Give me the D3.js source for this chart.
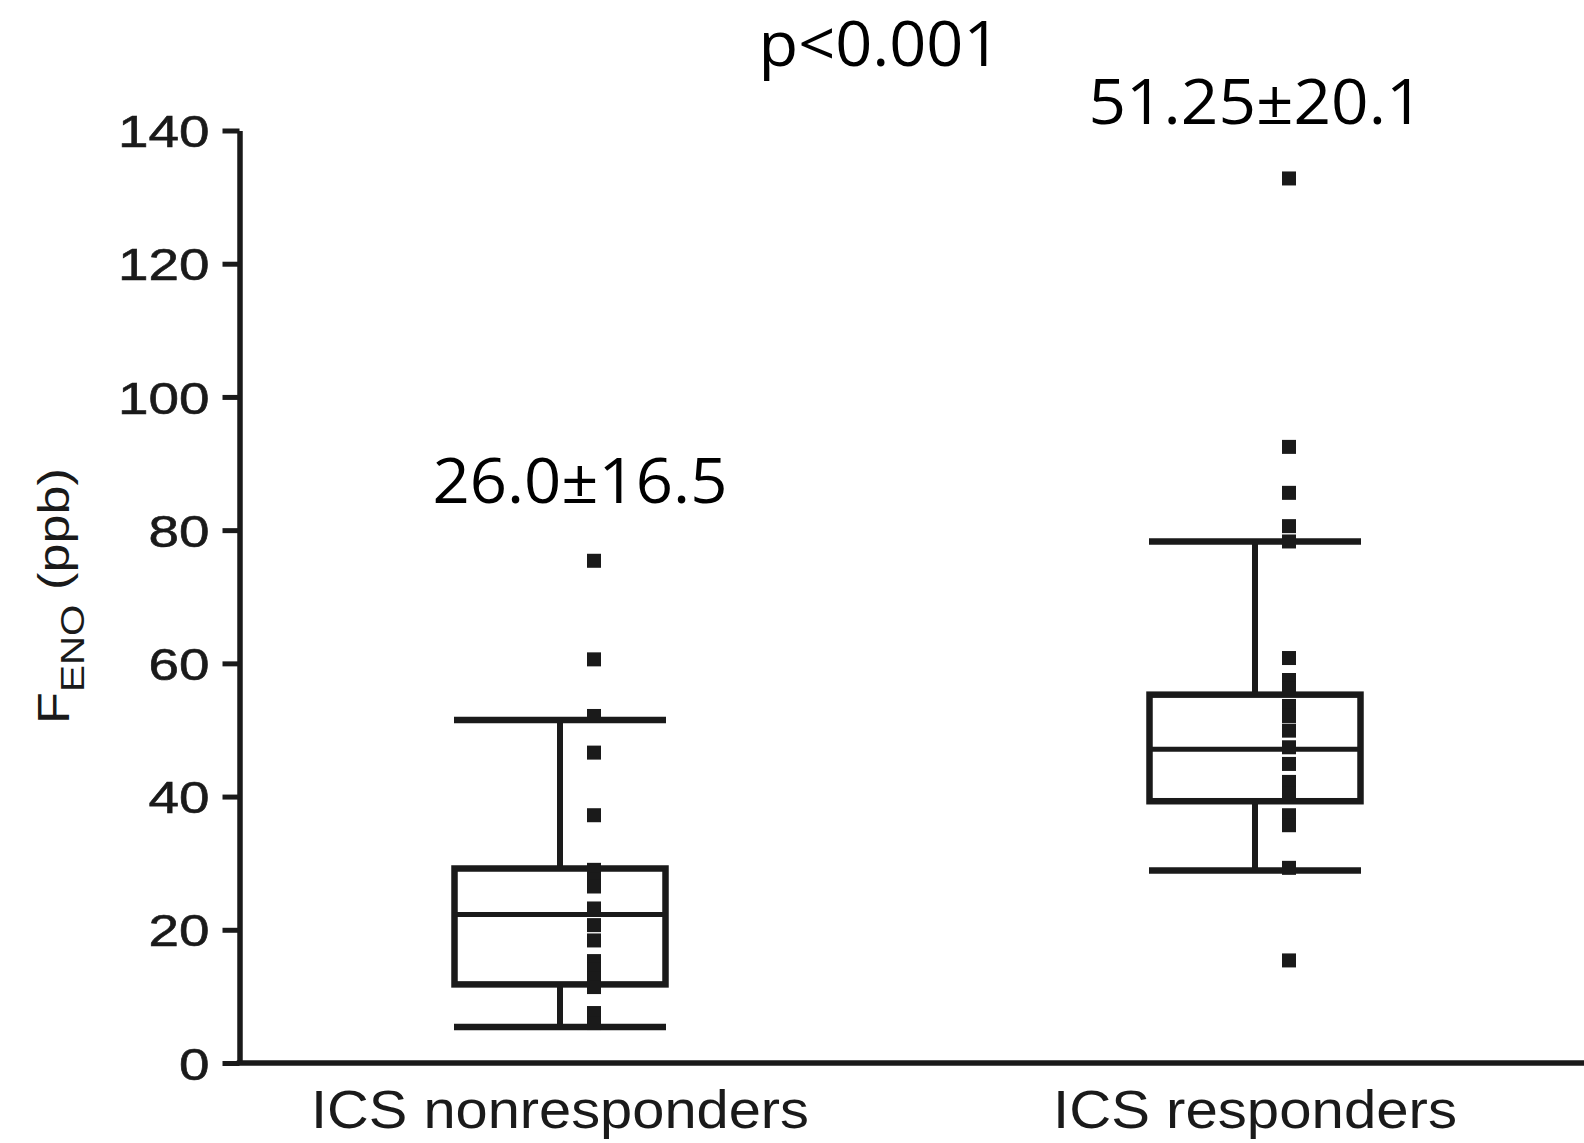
<!DOCTYPE html>
<html>
<head>
<meta charset="utf-8">
<script src="https://cdn.jsdelivr.net/npm/d3@7"></script>
<style>
  html, body { margin: 0; padding: 0; background: #fff; }
  svg { display: block; }
</style>
</head>
<body>
<svg id="chart" width="1584" height="1143"></svg>
<script>
// Groups compared
const categories = ["ICS nonresponders", "ICS responders"];

// Box-plot summary per group (ppb)
const whiskerLow  = [5.4, 28.9];
const q1          = [11.8, 39.3];
const medians     = [22.3, 47.1];
const q3          = [29.2, 55.3];
const whiskerHigh = [51.5, 78.3];

// Individual FeNO measurements (ppb)
const nonresponderValues = [75.4, 60.6, 52.1, 46.6, 37.2, 29.0, 27.5, 26.5, 23.2, 20.7,
                            18.4, 15.3, 14.0, 12.7, 11.4, 7.5, 6.0];
const responderValues = [132.8, 92.5, 85.6, 80.6, 78.3, 60.8, 57.5, 56.2, 53.6, 52.1,
                         49.9, 47.4, 44.9, 42.2, 40.4, 37.2, 35.7, 29.3, 15.4];
const groupValues = [nonresponderValues, responderValues];

// Mean ± SD per group and the group comparison
const meanSdLabels = ["26.0\u00b116.5", "51.25\u00b120.1"];
const pLabel = "p<0.001";

// Y-axis ticks
const yTicks = [0, 20, 40, 60, 80, 100, 120, 140];

const ink = "#1a1a1a";
const svg = d3.select("#chart");
const W = 1584, H = 1143;
svg.append("rect").attr("width", W).attr("height", H).attr("fill", "#fff");

const axisX = 239.5;
const y = d3.scaleLinear().domain([0, 140]).range([1063, 130.5]);
const x = d3.scalePoint().domain(categories).range([560, 1255]);

const boxW = 211;
const capW = 212;
const dotOffset = 34;
const dotSize = 14;

// Y axis
const yAxis = svg.append("g")
  .attr("transform", `translate(${axisX},0)`)
  .call(d3.axisLeft(y).tickValues(yTicks).tickSize(17).tickSizeOuter(0).tickPadding(13)
        .tickFormat(d3.format("d")));
yAxis.select(".domain").attr("stroke", ink).attr("stroke-width", 5.5);
yAxis.selectAll(".tick line").attr("stroke", ink).attr("stroke-width", 5);
yAxis.selectAll(".tick text")
  .attr("fill", ink)
  .attr("stroke", ink)
  .attr("stroke-width", 0.6)
  .attr("font-family", "'Liberation Sans', Arial, sans-serif")
  .attr("font-size", 45)
  .attr("dy", "0.36em")
  .attr("textLength", d => String(d).length * 30.5)
  .attr("lengthAdjust", "spacingAndGlyphs");

// X axis baseline
svg.append("line")
  .attr("x1", axisX - 2.75).attr("x2", W)
  .attr("y1", y(0)).attr("y2", y(0))
  .attr("stroke", ink).attr("stroke-width", 5.5);

// Category labels
const xLabelWidths = [498, 404];
svg.selectAll("text.cat")
  .data(categories)
  .join("text")
  .attr("class", "cat")
  .attr("x", d => x(d))
  .attr("y", 1128)
  .attr("text-anchor", "middle")
  .attr("fill", ink)
  .attr("font-family", "'Liberation Sans', Arial, sans-serif")
  .attr("font-size", 53)
  .attr("textLength", (d, i) => xLabelWidths[i])
  .attr("lengthAdjust", "spacingAndGlyphs")
  .text(d => d);

// Y axis title: F with subscript ENO
const yTitle = svg.append("text")
  .attr("transform", `translate(69,596) rotate(-90)`)
  .attr("text-anchor", "middle")
  .attr("fill", ink)
  .attr("font-family", "'Liberation Sans', Arial, sans-serif")
  .attr("font-size", 44)
  .attr("textLength", 256)
  .attr("lengthAdjust", "spacingAndGlyphs");
yTitle.append("tspan").text("F");
yTitle.append("tspan").attr("font-size", 34).attr("dy", 15).text("ENO");
yTitle.append("tspan").attr("dy", -15).text(" (ppb)");

// Boxes, whiskers and medians
const groups = svg.selectAll("g.box")
  .data(categories.map((c, i) => ({ c, i })))
  .join("g")
  .attr("class", "box");

groups.append("line")
  .attr("x1", d => x(d.c)).attr("x2", d => x(d.c))
  .attr("y1", d => y(q3[d.i])).attr("y2", d => y(whiskerHigh[d.i]))
  .attr("stroke", ink).attr("stroke-width", 6);
groups.append("line")
  .attr("x1", d => x(d.c)).attr("x2", d => x(d.c))
  .attr("y1", d => y(q1[d.i])).attr("y2", d => y(whiskerLow[d.i]))
  .attr("stroke", ink).attr("stroke-width", 6);
groups.append("line")
  .attr("x1", d => x(d.c) - capW / 2).attr("x2", d => x(d.c) + capW / 2)
  .attr("y1", d => y(whiskerHigh[d.i])).attr("y2", d => y(whiskerHigh[d.i]))
  .attr("stroke", ink).attr("stroke-width", 6.5);
groups.append("line")
  .attr("x1", d => x(d.c) - capW / 2).attr("x2", d => x(d.c) + capW / 2)
  .attr("y1", d => y(whiskerLow[d.i])).attr("y2", d => y(whiskerLow[d.i]))
  .attr("stroke", ink).attr("stroke-width", 6.5);
groups.append("rect")
  .attr("x", d => x(d.c) - boxW / 2)
  .attr("width", boxW)
  .attr("y", d => y(q3[d.i]))
  .attr("height", d => y(q1[d.i]) - y(q3[d.i]))
  .attr("fill", "none")
  .attr("stroke", ink).attr("stroke-width", 6.5);
groups.append("line")
  .attr("x1", d => x(d.c) - boxW / 2).attr("x2", d => x(d.c) + boxW / 2)
  .attr("y1", d => y(medians[d.i])).attr("y2", d => y(medians[d.i]))
  .attr("stroke", ink).attr("stroke-width", 5);

// Individual points
groups.each(function(d) {
  d3.select(this).selectAll("rect.pt")
    .data(groupValues[d.i])
    .join("rect")
    .attr("class", "pt")
    .attr("x", x(d.c) + dotOffset - dotSize / 2)
    .attr("y", v => y(v) - dotSize / 2)
    .attr("width", dotSize)
    .attr("height", dotSize)
    .attr("fill", ink);
});

// Mean ± SD annotations and p value
const noteFont = "'Open Sans', 'Noto Sans', sans-serif";
const meanPos = [
  { dx: 20, v: 84.1, w: 295 },
  { dx: 1, v: 141.0, w: 335 }
];
svg.selectAll("text.mean")
  .data(meanSdLabels)
  .join("text")
  .attr("class", "mean")
  .attr("x", (d, i) => x(categories[i]) + meanPos[i].dx)
  .attr("y", (d, i) => y(meanPos[i].v))
  .attr("text-anchor", "middle")
  .attr("fill", "#000")
  .attr("font-family", noteFont)
  .attr("font-size", 62)
  .attr("textLength", (d, i) => meanPos[i].w)
  .attr("lengthAdjust", "spacingAndGlyphs")
  .text(d => d);

svg.append("text")
  .attr("x", (x(categories[0]) + x(categories[1])) / 2 - 28)
  .attr("y", y(149.7))
  .attr("text-anchor", "middle")
  .attr("fill", "#000")
  .attr("font-family", noteFont)
  .attr("font-size", 62)
  .attr("textLength", 242)
  .attr("lengthAdjust", "spacingAndGlyphs")
  .text(pLabel);
</script>
</body>
</html>
